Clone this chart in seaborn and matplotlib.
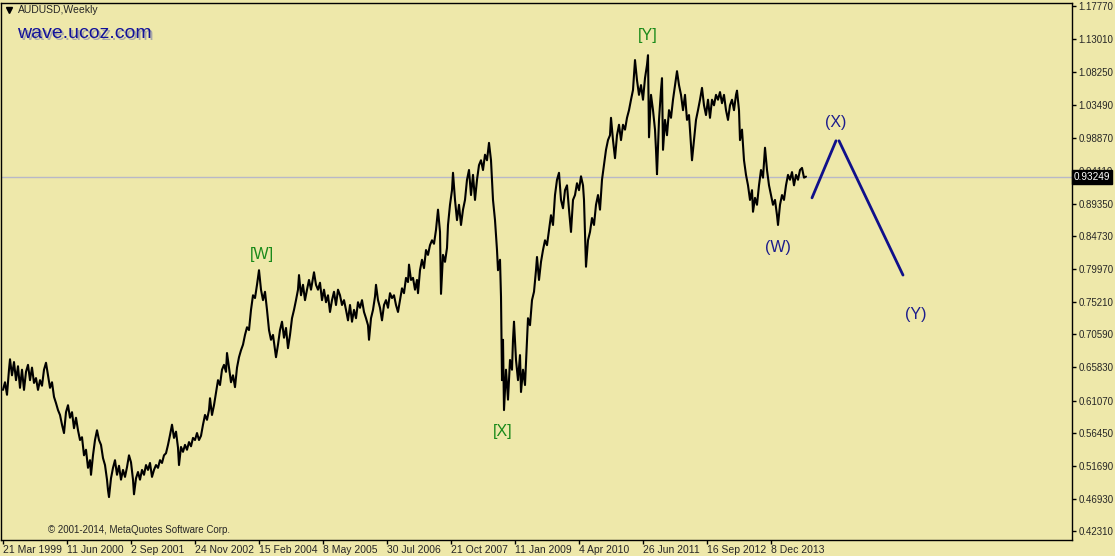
import numpy as np
import pandas as pd
import seaborn as sns
import matplotlib.pyplot as plt
from matplotlib import transforms

# weekly AUDUSD closes (week 0 = 21 Mar 1999)
weeks = [
    0, 2, 4, 6, 7, 9, 11, 13, 15, 17, 19, 21, 23, 25, 27, 29, 31, 33, 35, 37,
    39, 41, 43, 45, 47, 49, 51, 53, 55, 57, 59, 61, 63, 65, 67, 69, 71, 73, 75, 77,
    79, 81, 83, 85, 87, 88, 90, 92, 94, 96, 98, 100, 102, 104, 105, 106, 108, 110, 112, 114,
    116, 118, 120, 122, 124, 126, 128, 130, 131, 133, 135, 137, 139, 141, 143, 145, 147, 149, 151, 153,
    155, 157, 159, 161, 163, 165,
    167, 169, 171, 173, 175, 176, 178, 180, 182, 184, 186, 188, 190, 192, 194, 196, 198, 200, 202, 204,
    206, 207, 209, 211, 213, 215, 217, 219, 221, 223, 224, 226, 228, 230, 232, 234, 236, 238, 240, 242,
    244, 246, 248, 250, 252, 254, 256, 258, 260, 262, 264, 266, 268, 270, 272, 273, 275, 277, 279, 281,
    283, 285, 287, 289, 291, 293, 295, 296, 298, 300, 302, 304, 306, 308, 310, 311, 313, 315, 317, 319,
    321, 323, 325, 327, 329, 331, 333, 335,
    337, 339, 341, 343, 345, 347, 349, 351, 353, 355, 357, 359, 361, 363, 365, 366, 368, 370, 372, 373,
    375, 377, 379, 381, 383, 385, 387, 389, 391, 393, 395, 397, 399, 401, 403, 405, 406, 408, 410, 412,
    414, 415, 417, 419, 421, 423, 425, 427, 429, 431, 433, 435, 437, 438, 440, 442, 444, 445, 447, 449,
    450, 452, 454, 456, 458, 460, 462, 464, 466, 468, 470, 472, 474, 476, 478, 480, 482, 484, 486, 488,
    490, 492, 494, 495, 497, 498, 499, 500, 501, 503, 505, 507, 509, 510, 511, 513, 515, 517, 518, 520,
    522, 524, 525, 527, 529, 531, 533, 534, 536, 538, 540, 542, 544,
    546, 548, 550, 552, 554, 556, 558, 560, 562, 564, 566, 568, 570, 572, 574, 576, 578, 580, 581, 583,
    585, 587, 589, 591, 593, 595, 597, 599, 601, 603, 605, 607, 608, 610, 612, 614, 616, 618, 620, 622,
    624, 626, 628, 630, 632, 634, 636, 638, 640, 642, 644, 645, 646, 648, 650, 652, 653, 654, 656, 658,
    659, 660, 662, 664, 666, 668, 670, 672, 674, 676, 678, 680, 682, 684, 686, 688, 689, 691, 693, 695,
    697, 699, 701, 703, 705, 707, 709, 711, 713, 715, 717, 719, 721, 723, 725, 727, 729, 731, 733, 734,
    736, 737, 739, 741, 743, 745, 747, 749, 750, 752, 754, 756, 758, 760, 762, 764, 766, 768, 770, 772,
    774, 775, 777, 779, 781, 783, 785, 787, 789, 791, 793, 795, 797, 799, 801, 803,
]
close = [
    0.626, 0.637, 0.619, 0.655, 0.670, 0.647, 0.666, 0.640, 0.660, 0.629, 0.655, 0.626, 0.652, 0.662, 0.640, 0.658, 0.636, 0.643, 0.626, 0.640,
    0.632, 0.655, 0.665, 0.647, 0.629, 0.637, 0.616, 0.607, 0.597, 0.590, 0.576, 0.564, 0.594, 0.604, 0.586, 0.594, 0.571, 0.586, 0.568, 0.554,
    0.558, 0.532, 0.540, 0.514, 0.525, 0.504, 0.532, 0.554, 0.568, 0.554, 0.547, 0.528, 0.518, 0.497, 0.482, 0.472, 0.499, 0.514, 0.525, 0.504,
    0.517, 0.497, 0.511, 0.501, 0.515, 0.532, 0.522, 0.497, 0.476, 0.499, 0.508, 0.497, 0.511, 0.504, 0.518, 0.511, 0.521, 0.501, 0.511, 0.518,
    0.514, 0.525, 0.521, 0.532, 0.535, 0.547,
    0.561, 0.576, 0.557, 0.566, 0.543, 0.518, 0.544, 0.537, 0.547, 0.540, 0.551, 0.545, 0.557, 0.554, 0.564, 0.554, 0.560, 0.576, 0.590, 0.583,
    0.597, 0.614, 0.590, 0.604, 0.622, 0.640, 0.633, 0.655, 0.662, 0.652, 0.679, 0.658, 0.637, 0.647, 0.630, 0.658, 0.673, 0.683, 0.691, 0.705,
    0.716, 0.712, 0.741, 0.762, 0.758, 0.777, 0.798, 0.770, 0.755, 0.767, 0.741, 0.712, 0.698, 0.705, 0.683, 0.673, 0.691, 0.712, 0.724, 0.701,
    0.715, 0.686, 0.705, 0.729, 0.741, 0.755, 0.770, 0.791, 0.762, 0.777, 0.755, 0.770, 0.784, 0.770, 0.787, 0.795, 0.777, 0.770, 0.780, 0.755,
    0.770, 0.752, 0.762, 0.738, 0.755, 0.767, 0.748, 0.770,
    0.762, 0.748, 0.755, 0.741, 0.726, 0.748, 0.724, 0.741, 0.729, 0.752, 0.744, 0.755, 0.738, 0.729, 0.719, 0.698, 0.729, 0.741, 0.760, 0.777,
    0.755, 0.744, 0.726, 0.748, 0.755, 0.744, 0.765, 0.758, 0.762, 0.748, 0.738, 0.755, 0.772, 0.765, 0.787, 0.781, 0.806, 0.784, 0.787, 0.770,
    0.784, 0.765, 0.798, 0.813, 0.801, 0.827, 0.820, 0.834, 0.841, 0.836, 0.856, 0.885, 0.853, 0.764, 0.820, 0.810, 0.830, 0.863, 0.892, 0.913,
    0.938, 0.899, 0.870, 0.892, 0.863, 0.885, 0.899, 0.928, 0.942, 0.906, 0.935, 0.899, 0.928, 0.949, 0.956, 0.942, 0.964, 0.956, 0.981, 0.956,
    0.899, 0.870, 0.827, 0.798, 0.813, 0.760, 0.640, 0.698, 0.597, 0.655, 0.612, 0.669, 0.655, 0.698, 0.724, 0.669, 0.640, 0.676, 0.623, 0.655,
    0.633, 0.698, 0.729, 0.719, 0.755, 0.767, 0.798, 0.817, 0.784, 0.810, 0.827, 0.841, 0.834,
    0.856, 0.877, 0.863, 0.906, 0.928, 0.938, 0.899, 0.887, 0.913, 0.920, 0.885, 0.853, 0.899, 0.906, 0.923, 0.913, 0.933, 0.920, 0.899, 0.803,
    0.841, 0.853, 0.873, 0.863, 0.892, 0.906, 0.885, 0.928, 0.949, 0.971, 0.985, 0.992, 1.017, 0.985, 0.959, 0.992, 1.007, 0.985, 1.007, 1.000,
    1.017, 1.028, 1.043, 1.057, 1.100, 1.071, 1.050, 1.064, 1.043, 1.074, 1.093, 1.107, 0.989, 1.050, 1.028, 1.000, 0.971, 0.936, 1.014, 1.057,
    1.074, 0.971, 1.014, 0.992, 1.028, 1.017, 1.043, 1.064, 1.084, 1.064, 1.050, 1.028, 1.050, 1.014, 1.021, 0.978, 0.956, 0.985, 1.014, 1.028,
    1.043, 1.060, 1.035, 1.021, 1.043, 1.017, 1.043, 1.035, 1.050, 1.043, 1.054, 1.038, 1.050, 1.028, 1.014, 1.035, 1.043, 1.028, 1.050, 1.056,
    1.028, 0.985, 1.000, 0.956, 0.935, 0.920, 0.899, 0.913, 0.882, 0.902, 0.892, 0.920, 0.942, 0.931, 0.974, 0.942, 0.920, 0.906, 0.892, 0.899,
    0.877, 0.863, 0.892, 0.906, 0.899, 0.920, 0.935, 0.928, 0.939, 0.920, 0.935, 0.928, 0.942, 0.945, 0.931, 0.9325,
]

# forecast path drawn by hand on the chart
leg1_weeks = [809, 833]
leg1_price = [0.902, 0.984]
leg2_weeks = [836, 900]
leg2_price = [0.984, 0.791]

last_price = 0.93249

tick_weeks = [0, 64, 128, 192, 256, 320, 384, 448, 512, 576, 640, 704, 768]
tick_dates = ["21 Mar 1999", "11 Jun 2000", "2 Sep 2001", "24 Nov 2002", "15 Feb 2004",
              "8 May 2005", "30 Jul 2006", "21 Oct 2007", "11 Jan 2009", "4 Apr 2010",
              "26 Jun 2011", "16 Sep 2012", "8 Dec 2013"]
price_ticks = [1.17770, 1.13010, 1.08250, 1.03490, 0.98870, 0.94110, 0.89350, 0.84730,
               0.79970, 0.75210, 0.70590, 0.65830, 0.61070, 0.56450, 0.51690, 0.46930, 0.42310]

wave_major = [("[W]", 259, 0.820), ("[X]", 500, 0.566), ("[Y]", 645, 1.135)]
wave_minor = [("(W)", 775, 0.831), ("(X)", 833, 1.010), ("(Y)", 913, 0.734)]

bg = "#EEE8AA"
sns.set_theme(style="ticks", rc={"axes.facecolor": bg, "figure.facecolor": bg,
                                 "axes.edgecolor": "black", "axes.linewidth": 1.0})
plt.rcParams["font.family"] = ["Liberation Sans", "DejaVu Sans"]

fig = plt.figure(figsize=(11.15, 5.56), dpi=100)
ax = fig.add_axes([1 / 1115, 16 / 556, 1071 / 1115, 537 / 556])

df = pd.DataFrame({"week": weeks[:len(close)], "close": close[:len(weeks)]})
ax.axhline(last_price, color="#b8b8c8", lw=1, zorder=1)
sns.lineplot(data=df, x="week", y="close", ax=ax, color="black", lw=1.5, sort=False, zorder=3)
sns.lineplot(x=leg1_weeks, y=leg1_price, ax=ax, color="#10108a", lw=2, zorder=3)
sns.lineplot(x=leg2_weeks, y=leg2_price, ax=ax, color="#10108a", lw=2, zorder=3)

ax.set_xlim(-2, 1069)
ax.set_ylim(0.4103, 1.1820)
ax.set_xlabel("")
ax.set_ylabel("")

ax.yaxis.tick_right()
ax.set_yticks(price_ticks)
ax.set_yticklabels([f"{v:.5f}" for v in price_ticks], fontsize=7)
ax.set_xticks(tick_weeks)
ax.set_xticklabels(tick_dates, fontsize=7.5)
for lab in ax.get_xticklabels():
    lab.set_horizontalalignment("left")
ax.tick_params(axis="both", length=3, width=1, color="black")
ax.tick_params(axis="y", pad=1.5)
ax.tick_params(axis="x", pad=0.5)

# current price tag on the right axis
trans = transforms.blended_transform_factory(ax.transAxes, ax.transData)
ax.text(1.0015, last_price, f"{last_price:.5f}", transform=trans, fontsize=7.2, color="white",
        va="center", ha="left", zorder=10, clip_on=False,
        bbox=dict(boxstyle="square,pad=0.2", fc="black", ec="black"))

for txt, w, p in wave_major:
    ax.text(w, p, txt, color="#1a8a1a", fontsize=11.5, ha="center", va="center")
for txt, w, p in wave_minor:
    ax.text(w, p, txt, color="#1c1c8c", fontsize=11.5, ha="center", va="center")

# header and watermark
ax.plot([0.0075], [0.987], marker="v", color="black", ms=4, transform=ax.transAxes, clip_on=False)
ax.text(0.016, 0.987, "AUDUSD,Weekly", transform=ax.transAxes, fontsize=7.5, va="center", ha="left")
shadow = transforms.offset_copy(ax.transAxes, fig=fig, x=2, y=-2, units="dots")
ax.text(0.015, 0.944, "wave.ucoz.com", transform=shadow, fontsize=14, color="#a8a8a8",
        va="center", ha="left")
ax.text(0.015, 0.944, "wave.ucoz.com", transform=ax.transAxes, fontsize=14, color="#12129a",
        va="center", ha="left")
ax.text(0.044, 0.019, "\u00a9 2001-2014, MetaQuotes Software Corp.", transform=ax.transAxes,
        fontsize=7, va="center", ha="left")

fig.savefig("out.png", dpi=100, facecolor=bg)
